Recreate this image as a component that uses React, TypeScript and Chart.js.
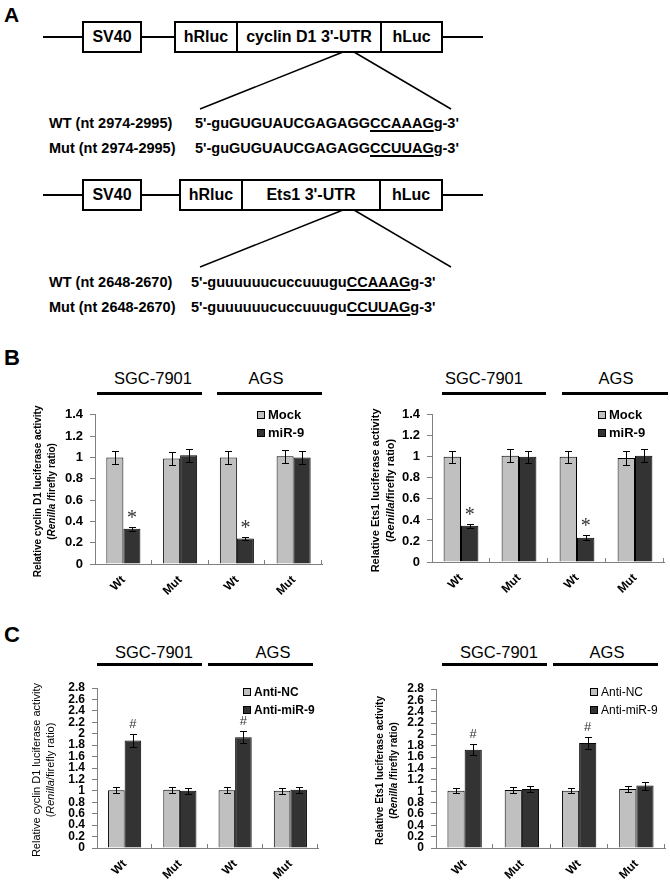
import React, { useEffect, useRef } from 'react';
import { Chart, registerables } from 'chart.js';

Chart.register(...registerables);
Chart.defaults.font.family = "'Liberation Sans', Arial, sans-serif";

// ---------------- data ----------------
const categories = ['Wt', 'Mut', 'Wt', 'Mut'];
const cellLines = ['SGC-7901', 'AGS'];

const yTicksB = [0, 0.2, 0.4, 0.6, 0.8, 1, 1.2, 1.4];
const yTickLabelsB = ['0', '0.2', '0.4', '0.6', '0.8', '1', '1.2', '1.4'];
const yTicksC = [0, 0.2, 0.4, 0.6, 0.8, 1, 1.2, 1.4, 1.6, 1.8, 2, 2.2, 2.4, 2.6, 2.8];
const yTickLabelsC = ['0', '0.2', '0.4', '0.6', '0.8', '1', '1.2', '1.4', '1.6', '1.8', '2', '2.2', '2.4', '2.6', '2.8'];

const seriesNamesB = ['Mock', 'miR-9'];
const seriesNamesC = ['Anti-NC', 'Anti-miR-9'];

const cyclinMock = [1.0, 0.99, 1.0, 1.01];
const cyclinMockErr = [0.06, 0.06, 0.06, 0.06];
const cyclinMir = [0.33, 1.02, 0.24, 1.0];
const cyclinMirErr = [0.02, 0.06, 0.012, 0.06];

const etsMock = [1.0, 1.01, 1.0, 0.99];
const etsMockErr = [0.06, 0.06, 0.06, 0.065];
const etsMir = [0.345, 1.0, 0.23, 1.01];
const etsMirErr = [0.02, 0.06, 0.025, 0.06];

const cyclinAntiNC = [1.01, 1.02, 1.01, 1.0];
const cyclinAntiNCErr = [0.05, 0.05, 0.05, 0.05];
const cyclinAntiMir = [1.88, 1.0, 1.94, 1.02];
const cyclinAntiMirErr = [0.11, 0.05, 0.11, 0.05];

const etsAntiNC = [1.01, 1.02, 1.01, 1.04];
const etsAntiNCErr = [0.05, 0.05, 0.05, 0.06];
const etsAntiMir = [1.73, 1.04, 1.85, 1.1];
const etsAntiMirErr = [0.1, 0.06, 0.1, 0.07];

const marksB = ['*', '', '*', ''];
const marksC = ['#', '', '#', ''];

const constructs = [
  { utr: "cyclin D1 3'-UTR", nt: '2974-2995', pre: "5'-guGUGUAUCGAGAGG", wtSite: 'CCAAAG', mutSite: 'CCUUAG', post: "g-3'" },
  { utr: "Ets1 3'-UTR", nt: '2648-2670', pre: "5'-guuuuuucuccuuugu", wtSite: 'CCAAAG', mutSite: 'CCUUAG', post: "g-3'" },
];

// ---------------- chart ----------------
const LIGHT = '#c0c0c0';
const DARK = '#333333';
const FF = "'Liberation Sans', Arial, sans-serif";

type Part = { t: string; i?: boolean };
type Series = { label: string; data: number[]; err: number[]; color: string; marks?: string[] };
type Cfg = {
  left: number; top: number; width: number; height: number;
  area: { left: number; right: number; top: number; bottom: number };
  yMax: number; yTicks: number[]; yLabels: string[]; yFont: number;
  series: Series[];
  legend: { x: number; y: number; dy: number; font: string };
  title: { lines: Part[][]; xs: number[]; size: number; weight: string };
  markFont: string; markGap: number;
};

function BarChart({ cfg }: { cfg: Cfg }) {
  const ref = useRef<HTMLCanvasElement>(null);
  useEffect(() => {
    const canvas = ref.current as HTMLCanvasElement;
    const { area } = cfg;
    const yw = 45;
    const plugin = {
      id: 'decor',
      afterDatasetsDraw(chart: any) {
        const ctx = chart.ctx as CanvasRenderingContext2D;
        const ys = chart.scales.y;
        const { left, right, top, bottom } = chart.chartArea;
        ctx.save();
        // error bars + marks
        cfg.series.forEach((s, di) => {
          const meta = chart.getDatasetMeta(di);
          meta.data.forEach((bar: any, i: number) => {
            const x = Math.round(bar.x) + 0.5;
            const yt = Math.round(ys.getPixelForValue(s.data[i] + s.err[i])) + 0.5;
            const yb = Math.round(ys.getPixelForValue(s.data[i] - s.err[i])) + 0.5;
            ctx.strokeStyle = '#000';
            ctx.lineWidth = 1;
            ctx.beginPath();
            ctx.moveTo(x, yt); ctx.lineTo(x, yb);
            ctx.moveTo(x - 3.5, yt); ctx.lineTo(x + 3.5, yt);
            ctx.moveTo(x - 3.5, yb); ctx.lineTo(x + 3.5, yb);
            ctx.stroke();
            const m = s.marks ? s.marks[i] : '';
            if (m) {
              ctx.fillStyle = '#333';
              ctx.font = cfg.markFont;
              ctx.textAlign = 'center';
              ctx.textBaseline = 'alphabetic';
              ctx.fillText(m, bar.x, yt - cfg.markGap);
            }
          });
        });
        // inner x-axis ticks at category boundaries
        const n = categories.length;
        const cw = (right - left) / n;
        ctx.strokeStyle = '#808080';
        ctx.lineWidth = 1;
        ctx.beginPath();
        for (let k = 1; k <= n; k++) {
          const x = Math.round(left + k * cw) - 0.5;
          ctx.moveTo(x, bottom); ctx.lineTo(x, bottom - 4);
        }
        ctx.stroke();
        // legend
        const lg = cfg.legend;
        cfg.series.forEach((s, i) => {
          const y = lg.y + i * lg.dy;
          ctx.fillStyle = s.color;
          ctx.fillRect(lg.x, y - 4, 8, 8);
          ctx.strokeStyle = '#000';
          ctx.strokeRect(lg.x + 0.5, y - 3.5, 7, 7);
          ctx.fillStyle = '#000';
          ctx.font = lg.font;
          ctx.textAlign = 'left';
          ctx.textBaseline = 'middle';
          ctx.fillText(s.label, lg.x + 11, y + 0.5);
        });
        // y title (rotated, with italic part)
        const tt = cfg.title;
        const cy = (top + bottom) / 2 + 2;
        tt.lines.forEach((parts, li) => {
          ctx.save();
          ctx.translate(tt.xs[li], cy);
          ctx.rotate(-Math.PI / 2);
          ctx.fillStyle = '#000';
          ctx.textBaseline = 'middle';
          ctx.textAlign = 'left';
          const fonts = parts.map(p => `${p.i ? 'italic ' : ''}${tt.weight} ${tt.size}px ${FF}`);
          let total = 0;
          const widths = parts.map((p, k) => { ctx.font = fonts[k]; const w = ctx.measureText(p.t).width; total += w; return w; });
          let x = -total / 2;
          parts.forEach((p, k) => { ctx.font = fonts[k]; ctx.fillText(p.t, x, 0); x += widths[k]; });
          ctx.restore();
        });
        ctx.restore();
      },
    };
    const chart = new Chart(canvas, {
      type: 'bar',
      data: {
        labels: categories,
        datasets: cfg.series.map(s => ({
          label: s.label, data: s.data, backgroundColor: s.color, borderColor: '#000', borderWidth: 1,
          categoryPercentage: 0.6, barPercentage: 1.0,
        })),
      },
      options: {
        responsive: false,
        animation: false,
        devicePixelRatio: 1,
        events: [],
        layout: { padding: { left: area.left - yw, right: cfg.width - area.right, top: area.top, bottom: 0 } },
        plugins: { legend: { display: false }, tooltip: { enabled: false } },
        scales: {
          x: {
            grid: { display: false, drawTicks: false },
            border: { display: true, color: '#808080' },
            ticks: { color: '#000', font: { weight: 'bold', size: 12 }, maxRotation: 45, minRotation: 45, padding: 9, autoSkip: false },
            afterFit: (s: any) => { s.height = cfg.height - area.bottom; },
          },
          y: {
            min: 0, max: cfg.yMax,
            grid: { display: true, drawOnChartArea: false, color: '#808080', tickLength: 5 },
            border: { display: true, color: '#808080' },
            ticks: { autoSkip: false, padding: 7, color: '#000', font: { weight: 'bold', size: cfg.yFont }, callback: (_v: any, i: number) => cfg.yLabels[i] },
            afterBuildTicks: (s: any) => { s.ticks = cfg.yTicks.map(v => ({ value: v })); },
            afterFit: (s: any) => { s.width = yw; },
          },
        },
      } as any,
      plugins: [plugin],
    });
    return () => chart.destroy();
  }, []);
  return (
    <canvas ref={ref} width={cfg.width} height={cfg.height}
      style={{ position: 'absolute', left: cfg.left, top: cfg.top, width: cfg.width, height: cfg.height }} />
  );
}

const titleCyclin = (space: boolean): Part[][] => [
  [{ t: 'Relative cyclin D1 luciferase activity' }],
  [{ t: '(' }, { t: 'Renilla', i: true }, { t: space ? ' /firefly ratio)' : '/firefly ratio)' }],
];
const titleEts = (space: boolean): Part[][] => [
  [{ t: 'Relative Ets1 luciferase activity' }],
  [{ t: '(' }, { t: 'Renilla', i: true }, { t: space ? ' /firefly ratio)' : '/firefly ratio)' }],
];

const chartB1: Cfg = {
  left: 0, top: 400, width: 335, height: 210,
  area: { left: 95, right: 322, top: 10, bottom: 164 },
  yMax: 1.4, yTicks: yTicksB, yLabels: yTickLabelsB, yFont: 13,
  series: [
    { label: seriesNamesB[0], data: cyclinMock, err: cyclinMockErr, color: LIGHT },
    { label: seriesNamesB[1], data: cyclinMir, err: cyclinMirErr, color: DARK, marks: marksB },
  ],
  legend: { x: 257, y: 15, dy: 18, font: `bold 13px ${FF}` },
  title: { lines: titleCyclin(true), xs: [38, 52], size: 10, weight: 'bold' },
  markFont: `20px 'Liberation Serif', serif`, markGap: 4,
};
const chartB2: Cfg = {
  left: 335, top: 400, width: 335, height: 210,
  area: { left: 97, right: 329, top: 11, bottom: 162 },
  yMax: 1.4, yTicks: yTicksB, yLabels: yTickLabelsB, yFont: 13,
  series: [
    { label: seriesNamesB[0], data: etsMock, err: etsMockErr, color: LIGHT },
    { label: seriesNamesB[1], data: etsMir, err: etsMirErr, color: DARK, marks: marksB },
  ],
  legend: { x: 263, y: 15, dy: 18, font: `bold 13px ${FF}` },
  title: { lines: titleEts(false), xs: [41, 56], size: 11, weight: 'bold' },
  markFont: `20px 'Liberation Serif', serif`, markGap: 4,
};
const chartC1: Cfg = {
  left: 0, top: 670, width: 335, height: 220,
  area: { left: 97, right: 318, top: 18, bottom: 178 },
  yMax: 2.8, yTicks: yTicksC, yLabels: yTickLabelsC, yFont: 12,
  series: [
    { label: seriesNamesC[0], data: cyclinAntiNC, err: cyclinAntiNCErr, color: LIGHT },
    { label: seriesNamesC[1], data: cyclinAntiMir, err: cyclinAntiMirErr, color: DARK, marks: marksC },
  ],
  legend: { x: 243, y: 22, dy: 18, font: `bold 12px ${FF}` },
  title: { lines: titleCyclin(false), xs: [37, 51], size: 11, weight: 'normal' },
  markFont: `13px ${FF}`, markGap: 7,
};
const chartC2: Cfg = {
  left: 335, top: 670, width: 335, height: 220,
  area: { left: 101, right: 330, top: 19, bottom: 178 },
  yMax: 2.8, yTicks: yTicksC, yLabels: yTickLabelsC, yFont: 12,
  series: [
    { label: seriesNamesC[0], data: etsAntiNC, err: etsAntiNCErr, color: LIGHT },
    { label: seriesNamesC[1], data: etsAntiMir, err: etsAntiMirErr, color: DARK, marks: marksC },
  ],
  legend: { x: 255, y: 22, dy: 18, font: `12px ${FF}` },
  title: { lines: titleEts(true), xs: [45, 59], size: 10, weight: 'bold' },
  markFont: `13px ${FF}`, markGap: 7,
};

// ---------------- panel A ----------------
const diagrams = [
  { lineY: 37, boxTop: 22, sv: [83, 141], big: [175, 237, 381, 442], apex: 52, foot: 109, rows: [123, 148], seqX: 195 },
  { lineY: 195, boxTop: 180, sv: [83, 141], big: [180, 242, 380, 442], apex: 210, foot: 267, rows: [282, 307], seqX: 191 },
];

const txt = (extra: React.CSSProperties): React.CSSProperties => ({
  position: 'absolute', lineHeight: '1', whiteSpace: 'nowrap', fontFamily: FF, color: '#000', ...extra,
});

function PanelA() {
  return (
    <>
      <svg width={670} height={330} style={{ position: 'absolute', left: 0, top: 0 }}>
        {diagrams.map((d, k) => (
          <g key={k} stroke="#000" fill="#fff">
            <line x1={43} y1={d.lineY} x2={483} y2={d.lineY} strokeWidth={2} />
            <rect x={d.sv[0]} y={d.boxTop} width={d.sv[1] - d.sv[0]} height={30} strokeWidth={2} />
            <rect x={d.big[0]} y={d.boxTop} width={d.big[3] - d.big[0]} height={30} strokeWidth={2} />
            <line x1={d.big[1]} y1={d.boxTop} x2={d.big[1]} y2={d.boxTop + 30} strokeWidth={2} />
            <line x1={d.big[2]} y1={d.boxTop} x2={d.big[2]} y2={d.boxTop + 30} strokeWidth={2} />
            <line x1={343} y1={d.apex} x2={200} y2={d.foot} strokeWidth={1.5} />
            <line x1={354} y1={d.apex} x2={451} y2={d.foot} strokeWidth={1.5} />
          </g>
        ))}
      </svg>
      {diagrams.map((d, k) => {
        const c = constructs[k];
        const cy = d.lineY - 8;
        const box = (l: number, r: number, t: string) => (
          <div style={txt({ left: l, width: r - l, top: cy, textAlign: 'center', fontSize: 16, fontWeight: 'bold' })}>{t}</div>
        );
        const seq = (site: string, y: number) => (
          <div style={txt({ left: d.seqX, top: y - 7, fontSize: 14.5, fontWeight: 'bold' })}>
            {c.pre}<span style={{ textDecoration: 'underline', textDecorationThickness: '1.5px', textUnderlineOffset: '2px' }}>{site}</span>{c.post}
          </div>
        );
        return (
          <React.Fragment key={k}>
            {box(d.sv[0], d.sv[1], 'SV40')}
            {box(d.big[0], d.big[1], 'hRluc')}
            {box(d.big[1], d.big[2], c.utr)}
            {box(d.big[2], d.big[3], 'hLuc')}
            <div style={txt({ left: 49, top: d.rows[0] - 7, fontSize: 14.5, fontWeight: 'bold' })}>{`WT (nt ${c.nt})`}</div>
            <div style={txt({ left: 49, top: d.rows[1] - 7, fontSize: 14.5, fontWeight: 'bold' })}>{`Mut (nt ${c.nt})`}</div>
            {seq(c.wtSite, d.rows[0])}
            {seq(c.mutSite, d.rows[1])}
          </React.Fragment>
        );
      })}
    </>
  );
}

// group headers (cell line labels with bars)
const headers = [
  { textY: 370, lineY: 392, centers: [153, 266], lines: [[97, 202], [217, 322]] },
  { textY: 370, lineY: 392, centers: [484, 616], lines: [[442, 546], [562, 668]] },
  { textY: 644, lineY: 663, centers: [154, 273], lines: [[97, 202], [208, 313]] },
  { textY: 644, lineY: 663, centers: [499, 607], lines: [[442, 547], [553, 658]] },
];

function Headers() {
  return (
    <>
      {headers.map((h, k) => (
        <React.Fragment key={k}>
          {cellLines.map((name, i) => (
            <React.Fragment key={i}>
              <div style={txt({ left: h.centers[i] - 60, width: 120, textAlign: 'center', top: h.textY, fontSize: 16.5 })}>{name}</div>
              <div style={{ position: 'absolute', left: h.lines[i][0], top: h.lineY, width: h.lines[i][1] - h.lines[i][0], height: 3, background: '#000' }} />
            </React.Fragment>
          ))}
        </React.Fragment>
      ))}
    </>
  );
}

export default function App() {
  return (
    <div style={{ position: 'absolute', left: 0, top: 0, width: 670, height: 890, background: '#fff', overflow: 'hidden' }}>
      <PanelA />
      <div style={txt({ left: 4, top: 4, fontSize: 21, fontWeight: 'bold' })}>A</div>
      <div style={txt({ left: 4, top: 347, fontSize: 22, fontWeight: 'bold' })}>B</div>
      <div style={txt({ left: 4, top: 624, fontSize: 22, fontWeight: 'bold' })}>C</div>
      <Headers />
      <BarChart cfg={chartB1} />
      <BarChart cfg={chartB2} />
      <BarChart cfg={chartC1} />
      <BarChart cfg={chartC2} />
    </div>
  );
}
